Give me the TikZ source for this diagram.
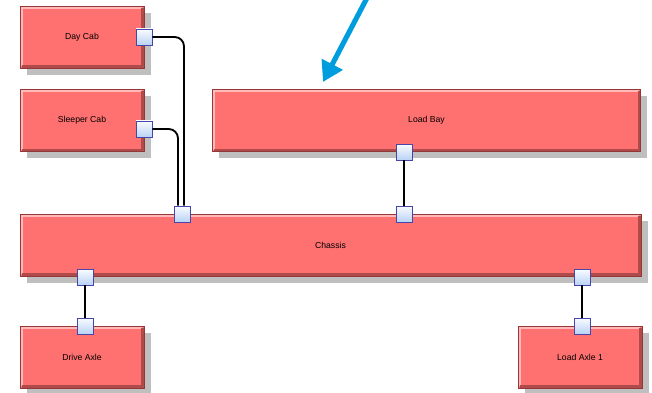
\documentclass[tikz,border=0pt]{standalone}
\usepackage{fontspec}
\setmainfont{Liberation Sans}
\usepackage{tikz}
\usetikzlibrary{shadows}
\usetikzlibrary{arrows.meta}

\definecolor{partfill}{RGB}{255,112,112}
\definecolor{partline}{RGB}{150,55,55}
\definecolor{partlight}{RGB}{255,185,185}
\definecolor{partdark}{RGB}{175,75,75}
\definecolor{portline}{RGB}{70,70,170}
\definecolor{porttop}{RGB}{250,252,255}
\definecolor{portbot}{RGB}{185,210,245}
\definecolor{pointer}{RGB}{0,157,222}

\tikzset{
	part/.style={draw=partline, fill=partfill, line width=0.6pt, inner sep=0pt,
		font=\fontsize{6.5}{8}\selectfont,
		drop shadow={shadow xshift=5pt, shadow yshift=-5pt, fill=black!25, opacity=1},
		path picture={
			\draw[partlight, line width=2pt] ([xshift=1.2pt,yshift=1.2pt]path picture bounding box.south west) |- ([xshift=-1.2pt,yshift=-1.2pt]path picture bounding box.north east);
			\draw[partdark, line width=2pt] ([xshift=1.2pt,yshift=1.2pt]path picture bounding box.south west) -| ([xshift=-1.2pt,yshift=-1.2pt]path picture bounding box.north east);
		}},
	port/.style={draw=portline, line width=0.6pt, top color=porttop, bottom color=portbot,
		minimum size=12pt, inner sep=0pt},
	link/.style={line width=1.4pt, rounded corners=7pt}
}

\begin{document}
\begin{tikzpicture}[x=0.75pt,y=0.75pt,yscale=-1,xscale=1]
	\useasboundingbox (0,0) rectangle (652,392);

	% Parts
	\node [part, minimum width=93pt, minimum height=46.5pt] (daycab) at (82,37) {Day Cab};
	\node [part, minimum width=93pt, minimum height=46.5pt] (sleepercab) at (82,120.5) {Sleeper Cab};
	\node [part, minimum width=321pt, minimum height=46.5pt] (loadbay) at (426.5,120.5) {Load Bay};
	\node [part, minimum width=465.75pt, minimum height=46.5pt] (chassis) at (330.5,245) {Chassis};
	\node [part, minimum width=93pt, minimum height=46.5pt] (driveaxle) at (82,357) {Drive Axle};
	\node [part, minimum width=93pt, minimum height=46.5pt] (loadaxle) at (580,357) {Load Axle 1};

	% Ports
	\node [port] (dcport) at (144,37) {};
	\node [port] (scport) at (144,129) {};
	\node [port] (lbport) at (404,152) {};
	\node [port] (chtopa) at (182,214) {};
	\node [port] (chtopb) at (404,214) {};
	\node [port] (chbota) at (85,277) {};
	\node [port] (chbotb) at (582,277) {};
	\node [port] (daport) at (85,326) {};
	\node [port] (laport) at (582,326) {};

	% Connectors
	\draw [link] (dcport.east) -| ([xshift=1.5pt]chtopa.north);
	\draw [link] (scport.east) -| ([xshift=-3pt]chtopa.north);
	\draw [link] (lbport) -- (chtopb);
	\draw [link] (chbota) -- (daport);
	\draw [link] (chbotb) -- (laport);

	% Pointer
	\coordinate (ptrtail) at (368,-4);
	\coordinate (ptrtip) at (323,82);
	\draw [pointer, line width=3.8pt, -{Triangle[length=15pt,width=17pt]}] (ptrtail) -- (ptrtip);

\end{tikzpicture}
\end{document}
